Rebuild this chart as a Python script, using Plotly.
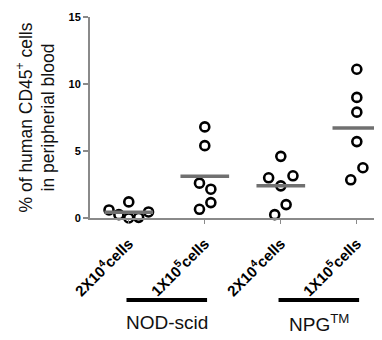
import numpy as np
import plotly.graph_objects as go

categories = ["2X10<sup>4</sup>cells", "1X10<sup>5</sup>cells", "2X10<sup>4</sup>cells", "1X10<sup>5</sup>cells"]
groups = ["NOD-scid", "NPG<sup>TM</sup>"]

# values (% of human CD45+ cells)
g1_vals = [0.6, 0.25, 1.2, 0.0, 0.05, 0.45]
g2_vals = [6.8, 5.4, 2.6, 2.15, 1.15, 0.65]
g3_vals = [4.6, 3.0, 3.15, 2.4, 1.0, 0.25]
g4_vals = [11.1, 9.0, 7.9, 5.7, 3.75, 2.85]
values = [g1_vals, g2_vals, g3_vals, g4_vals]

# horizontal scatter offsets (category units) as seen in the picture
g1_off = [-0.26, -0.13, 0.0, 0.0, 0.13, 0.26]
g2_off = [0.0, 0.0, -0.07, 0.08, 0.08, -0.07]
g3_off = [0.0, -0.16, 0.16, 0.0, 0.07, -0.08]
g4_off = [0.0, 0.0, 0.0, 0.0, 0.08, -0.08]
offsets = [g1_off, g2_off, g3_off, g4_off]

yticks = [0, 5, 10, 15]

FONT = "Liberation Sans, Arial, sans-serif"

fig = go.Figure()
for i, (vals, offs) in enumerate(zip(values, offsets)):
    fig.add_trace(go.Scatter(
        x=[i + o for o in offs], y=vals, mode="markers",
        marker=dict(symbol="circle-open", size=9, color="black",
                    line=dict(width=2.6, color="black")),
        cliponaxis=False, showlegend=False, hoverinfo="y"))
    m = float(np.mean(vals))
    fig.add_trace(go.Scatter(
        x=[i - 0.32, i + 0.32], y=[m, m], mode="lines",
        line=dict(color="#707070", width=3.5),
        cliponaxis=False, showlegend=False, hoverinfo="skip"))

# group bars and labels under the axis
for gi, name in enumerate(groups):
    a, b = 2 * gi, 2 * gi + 1
    fig.add_shape(type="line", xref="x", yref="paper",
                  x0=a - 0.03, x1=b + 0.03, y0=-0.408, y1=-0.408,
                  line=dict(color="black", width=4))
    fig.add_annotation(xref="x", yref="paper", x=(a + b) / 2, y=-0.52,
                       yanchor="middle", xanchor="center",
                       text=name, showarrow=False,
                       font=dict(family=FONT, size=19, color="#111"))

fig.update_layout(
    width=382, height=340,
    margin=dict(l=82, r=2, t=9, b=130, autoexpand=False),
    paper_bgcolor="white", plot_bgcolor="white",
    font=dict(family=FONT, color="#111"),
    xaxis=dict(range=[-0.51, 3.41], tickmode="array",
               tickvals=[0, 1, 2, 3], ticktext=categories,
               tickangle=-45, showgrid=False, zeroline=False,
               showline=True, linecolor="#8a8a8a", linewidth=2,
               ticks="outside", ticklen=4, tickcolor="#8a8a8a", tickwidth=1,
               automargin=False, ticklabelstandoff=5,
               tickfont=dict(family=FONT, size=15, color="#000", weight="bold")),
    yaxis=dict(range=[0, 15], tickmode="array", tickvals=yticks,
               showgrid=False, zeroline=False,
               showline=True, linecolor="#8a8a8a", linewidth=2,
               ticks="outside", ticklen=5, tickcolor="#8a8a8a", tickwidth=1.5,
               automargin=False,
               tickfont=dict(family=FONT, size=11, color="#000", weight="bold"),
               title=dict(text="% of human CD45<sup>+</sup> cells<br>in peripherial blood",
                          font=dict(family=FONT, size=17.5, color="#111"),
                          standoff=9)),
)

fig.write_html("out.html")
